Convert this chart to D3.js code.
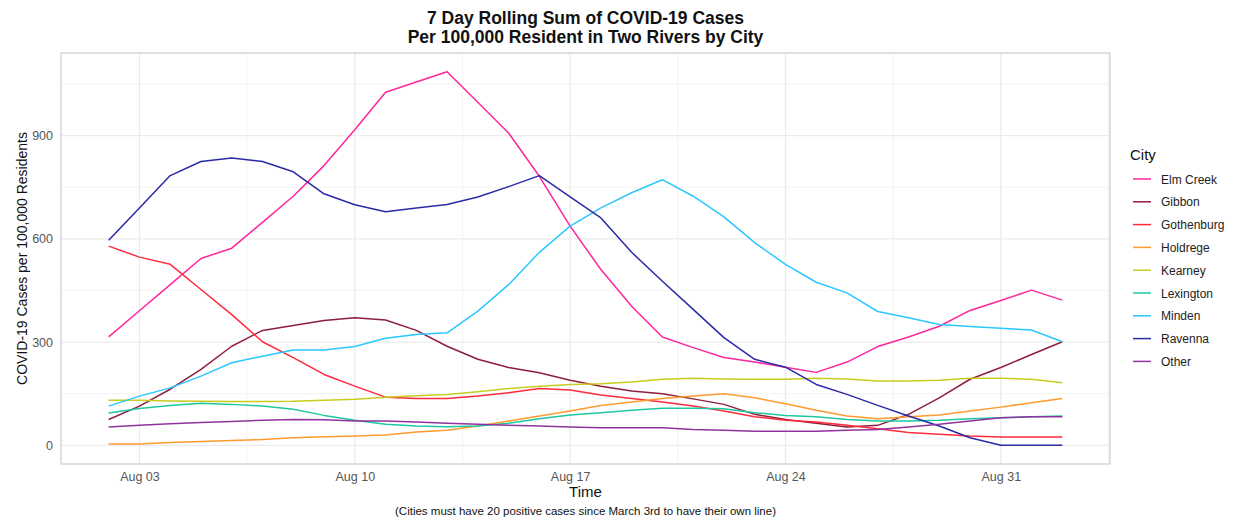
<!DOCTYPE html>
<html>
<head>
<meta charset="utf-8">
<script src="https://cdn.jsdelivr.net/npm/d3@7"></script>
<style>
  body { margin: 0; background: #fff; font-family: "Liberation Sans", Arial, sans-serif; }
  .tick text { fill: #555; font-size: 12.5px; }
</style>
</head>
<body>
<div id="chart"></div>
<script>
//Datos (Aug 2 - Sep 2)
const startDate = new Date(2020, 7, 2);
const cities = ['Elm Creek','Gibbon','Gothenburg','Holdrege','Kearney','Lexington','Minden','Ravenna','Other'];
const colors = ['#ff259f','#8e1f3c','#ff2a3c','#ff9a2e','#c8cc1e','#1ec8a0','#2ac8ff','#2a2aa6','#9232a0'];

const elmCreek   = [315,391,467,543,573,648,724,813,917,1026,1056,1086,997,908,782,637,511,404,315,284,255,242,227,212,242,287,315,346,392,421,451,422];
const gibbon     = [75,114,163,221,288,334,348,363,371,364,334,288,250,226,211,189,172,158,150,135,119,90,75,64,53,58,90,138,192,226,264,301];
const gothenburg = [579,547,526,453,380,301,255,206,172,140,136,136,143,153,165,161,146,136,126,114,100,83,73,68,58,48,37,32,27,24,24,24];
const holdrege   = [4,4,8,11,14,17,22,25,27,30,39,44,56,71,85,100,116,126,136,143,150,138,121,102,85,77,83,88,100,111,124,136];
const kearney    = [131,131,129,128,127,127,128,131,134,140,144,148,156,165,172,177,179,184,192,195,193,192,192,195,193,187,187,189,195,195,192,182];
const lexington  = [94,107,116,122,119,114,105,87,73,61,56,54,56,64,77,88,95,102,108,108,106,95,87,83,75,71,71,73,77,80,83,85];
const minden     = [114,143,167,201,240,259,277,277,287,311,322,327,390,467,561,637,690,734,772,724,664,589,526,474,443,389,371,351,345,340,335,301];
const ravenna    = [596,690,784,825,835,825,795,731,699,679,690,700,722,752,784,722,661,561,477,395,313,250,227,177,148,116,85,56,22,0,0,0];
const other      = [53,58,63,66,69,73,75,74,71,71,68,64,61,58,56,53,51,51,51,46,44,41,41,41,44,46,53,61,71,80,83,83];

const seriesValues = [elmCreek, gibbon, gothenburg, holdrege, kearney, lexington, minden, ravenna, other];
const yTicks = [0, 300, 600, 900];
const xTickDates = [new Date(2020,7,3), new Date(2020,7,10), new Date(2020,7,17), new Date(2020,7,24), new Date(2020,7,31)];

const W = 1238, H = 521;
const margin = {top: 53, right: 128, bottom: 57, left: 61};
const width = W - margin.left - margin.right,
      height = H - margin.top - margin.bottom;

const svg = d3.select('#chart').append('svg')
    .attr('width', W).attr('height', H);

const dates = elmCreek.map((d, i) => d3.timeDay.offset(startDate, i));
const data = cities.map((c, k) => ({
    city: c,
    color: colors[k],
    values: seriesValues[k].map((v, i) => ({date: dates[i], value: v}))
}));

//Escalas con expansion del 5% (como ggplot)
const xExt = d3.extent(dates);
const xSpan = xExt[1] - xExt[0];
const x = d3.scaleTime()
    .domain([new Date(+xExt[0] - xSpan * 0.05), new Date(+xExt[1] + xSpan * 0.05)])
    .range([0, width]);

const yMax = d3.max(seriesValues, s => d3.max(s)), yMin = 0;
const ySpan = yMax - yMin;
const y = d3.scaleLinear()
    .domain([yMin - ySpan * 0.05, yMax + ySpan * 0.05])
    .range([height, 0]);

const g = svg.append('g').attr('transform', `translate(${margin.left},${margin.top})`);

//Rejilla menor
const xMinor = xTickDates.slice(0, -1).map(d => new Date(+d + 3.5 * 864e5));
xMinor.unshift(new Date(+xTickDates[0] - 3.5 * 864e5));
xMinor.push(new Date(+xTickDates[xTickDates.length - 1] + 3.5 * 864e5));
const yMinor = [150, 450, 750, 1050];

g.selectAll('.xminor').data(xMinor.filter(d => x(d) > 0 && x(d) < width)).enter().append('line')
    .attr('x1', d => x(d)).attr('x2', d => x(d)).attr('y1', 0).attr('y2', height)
    .attr('stroke', '#f3f3f3').attr('stroke-width', 1);
g.selectAll('.yminor').data(yMinor).enter().append('line')
    .attr('x1', 0).attr('x2', width).attr('y1', d => y(d)).attr('y2', d => y(d))
    .attr('stroke', '#f3f3f3').attr('stroke-width', 1);

//Rejilla mayor
g.selectAll('.xmajor').data(xTickDates).enter().append('line')
    .attr('x1', d => x(d)).attr('x2', d => x(d)).attr('y1', 0).attr('y2', height)
    .attr('stroke', '#ebebeb').attr('stroke-width', 1.3);
g.selectAll('.ymajor').data(yTicks).enter().append('line')
    .attr('x1', 0).attr('x2', width).attr('y1', d => y(d)).attr('y2', d => y(d))
    .attr('stroke', '#ebebeb').attr('stroke-width', 1.3);

//Ejes
const xAxis = g.append('g')
    .attr('transform', `translate(0,${height})`)
    .call(d3.axisBottom(x).tickValues(xTickDates).tickFormat(d3.timeFormat('%b %d')).tickSize(0).tickPadding(8));
xAxis.select('.domain').remove();

const yAxis = g.append('g')
    .call(d3.axisLeft(y).tickValues(yTicks).tickSize(0).tickPadding(8));
yAxis.select('.domain').remove();
g.selectAll('.tick text').style('font-family', '"Liberation Sans", Arial, sans-serif');

//Lineas
const line = d3.line()
    .x(d => x(d.date))
    .y(d => y(d.value));

g.selectAll('.city-line').data(data).enter().append('path')
    .attr('class', 'city-line')
    .attr('fill', 'none')
    .attr('stroke', d => d.color)
    .attr('stroke-width', 1.5)
    .attr('stroke-linejoin', 'round')
    .attr('d', d => line(d.values));

//Borde del panel
g.append('rect')
    .attr('x', 0).attr('y', 0).attr('width', width).attr('height', height)
    .attr('fill', 'none').attr('stroke', '#d6d6d6').attr('stroke-width', 1.5);

//Titulos
const cx = margin.left + width / 2;
svg.append('text').attr('x', cx).attr('y', 24).attr('text-anchor', 'middle')
    .style('font-size', '17.5px').style('font-weight', 'bold').attr('fill', '#111')
    .text('7 Day Rolling Sum of COVID-19 Cases');
svg.append('text').attr('x', cx).attr('y', 43).attr('text-anchor', 'middle')
    .style('font-size', '17.5px').style('font-weight', 'bold').attr('fill', '#111')
    .text('Per 100,000 Resident in Two Rivers by City');

svg.append('text').attr('x', cx).attr('y', 497).attr('text-anchor', 'middle')
    .style('font-size', '15px').attr('fill', '#111').text('Time');
svg.append('text').attr('x', cx).attr('y', 515).attr('text-anchor', 'middle')
    .style('font-size', '11.5px').attr('fill', '#111')
    .text('(Cities must have 20 positive cases since March 3rd to have their own line)');

svg.append('text')
    .attr('transform', `translate(27,${margin.top + height / 2}) rotate(-90)`)
    .attr('text-anchor', 'middle')
    .style('font-size', '14px').attr('fill', '#111')
    .text('COVID-19 Cases per 100,000 Residents');

//Leyenda
const legend = svg.append('g').attr('transform', 'translate(1130,0)');
legend.append('text').attr('x', 0).attr('y', 160)
    .style('font-size', '15px').attr('fill', '#111').text('City');
const items = legend.selectAll('.item').data(data).enter().append('g')
    .attr('transform', (d, i) => `translate(0,${179 + i * 22.8})`);
items.append('line').attr('x1', 3).attr('x2', 21).attr('y1', 0).attr('y2', 0)
    .attr('stroke', d => d.color).attr('stroke-width', 1.5);
items.append('text').attr('x', 31).attr('y', 4.5)
    .style('font-size', '12px').attr('fill', '#222').text(d => d.city);
</script>
</body>
</html>
